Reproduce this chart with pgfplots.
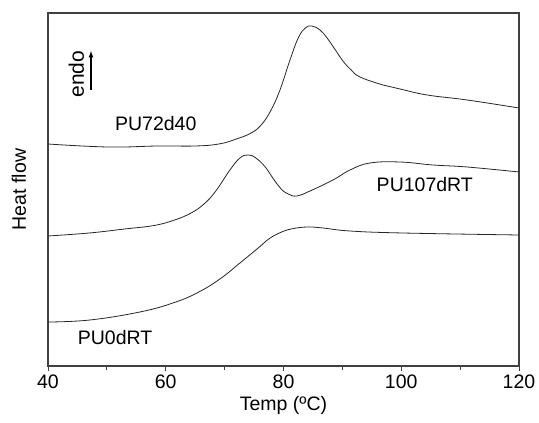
\documentclass[border=0pt]{standalone}
\usepackage{fontspec}
\setmainfont{Liberation Sans}
\usepackage{pgfplots}
\pgfplotsset{compat=1.18}
\usetikzlibrary{calc}

\begin{document}
\begin{tikzpicture}
\begin{axis}[
  name=ax,
  scale only axis,
  width=471bp, height=353bp,
  xmin=40, xmax=120,
  ymin=0, ymax=353,
  axis line style={line width=1.2bp, black!75},
  xtick={40,60,80,100,120},
  minor xtick={50,70,90,110},
  ytick=\empty,
  tick align=outside,
  xtick pos=bottom,
  major tick length=5bp,
  minor tick length=4bp,
  every tick/.style={black!75, line width=1bp},
  /pgf/number format/assume math mode=true,
  tick label style={font=\fontsize{19.5bp}{23bp}\selectfont},
  xlabel={Temp (ºC)},
  ylabel={Heat flow},
  every axis y label/.style={at={(axis description cs:-0.062,0.5)}, rotate=90, anchor=center,
    font=\fontsize{19.5bp}{23bp}\selectfont},
  every axis x label/.style={at={(axis description cs:0.5,0)}, anchor=north, yshift=-27bp,
    font=\fontsize{19.5bp}{23bp}\selectfont},
  clip=false,
]
% PU72d40
\addplot[black!85, line width=0.8bp, smooth, tension=0.7] coordinates {
  (40.0,222) (50.2,219) (58.7,220) (65.0,220) (69.0,222) (72.0,227) (74.5,233) (76.2,241)
  (77.8,255) (79.4,276) (81.1,306) (82.5,328) (83.7,338) (84.8,340) (86.2,336) (87.4,328)
  (88.7,317) (90.1,305) (91.5,296) (93.0,289) (96.9,281) (99.8,277) (104.4,271) (111.2,266) (120,258)
};
% PU107dRT
\addplot[black!85, line width=0.8bp, smooth, tension=0.7] coordinates {
  (40,130) (47,133) (53,137) (58,140.5) (61.5,146) (64.3,153) (66.5,162) (68.5,175) (70.9,196) (72.6,208)
  (74.0,211) (75.3,208) (76.9,199) (78.3,187) (79.6,177) (80.8,172) (82.3,170) (84.5,175)
  (88.4,186) (91.3,196) (94.7,203) (99.8,204) (105.4,201) (111.2,199) (120,194)
};
% PU0dRT
\addplot[black!85, line width=0.8bp, smooth, tension=0.7] coordinates {
  (40,44) (47.1,46) (55.6,54) (61.2,63) (65.3,73) (69.2,87) (72.6,103)
  (75.7,118) (77.5,127) (79.3,133) (81.3,137) (84.0,139) (86.7,138) (91.3,135) (100.3,133) (120,131)
};
\node[font=\fontsize{19.5bp}{23bp}\selectfont] at (axis cs:58.3,242) {PU72d40};
\node[font=\fontsize{19.5bp}{23bp}\selectfont] at (axis cs:104.0,181) {PU107dRT};
\node[font=\fontsize{19.5bp}{23bp}\selectfont] at (axis cs:51.4,28.5) {PU0dRT};
\node[font=\fontsize{21bp}{25bp}\selectfont, rotate=90] at (axis cs:44.8,292) {endo};
\draw[-latex, line width=1.2bp] (axis cs:47.3,276) -- (axis cs:47.3,315);
\end{axis}
\path ($(ax.south west)+(-48bp,-57bp)$) rectangle ($(ax.north east)+(20bp,13bp)$);
\end{tikzpicture}
\end{document}
